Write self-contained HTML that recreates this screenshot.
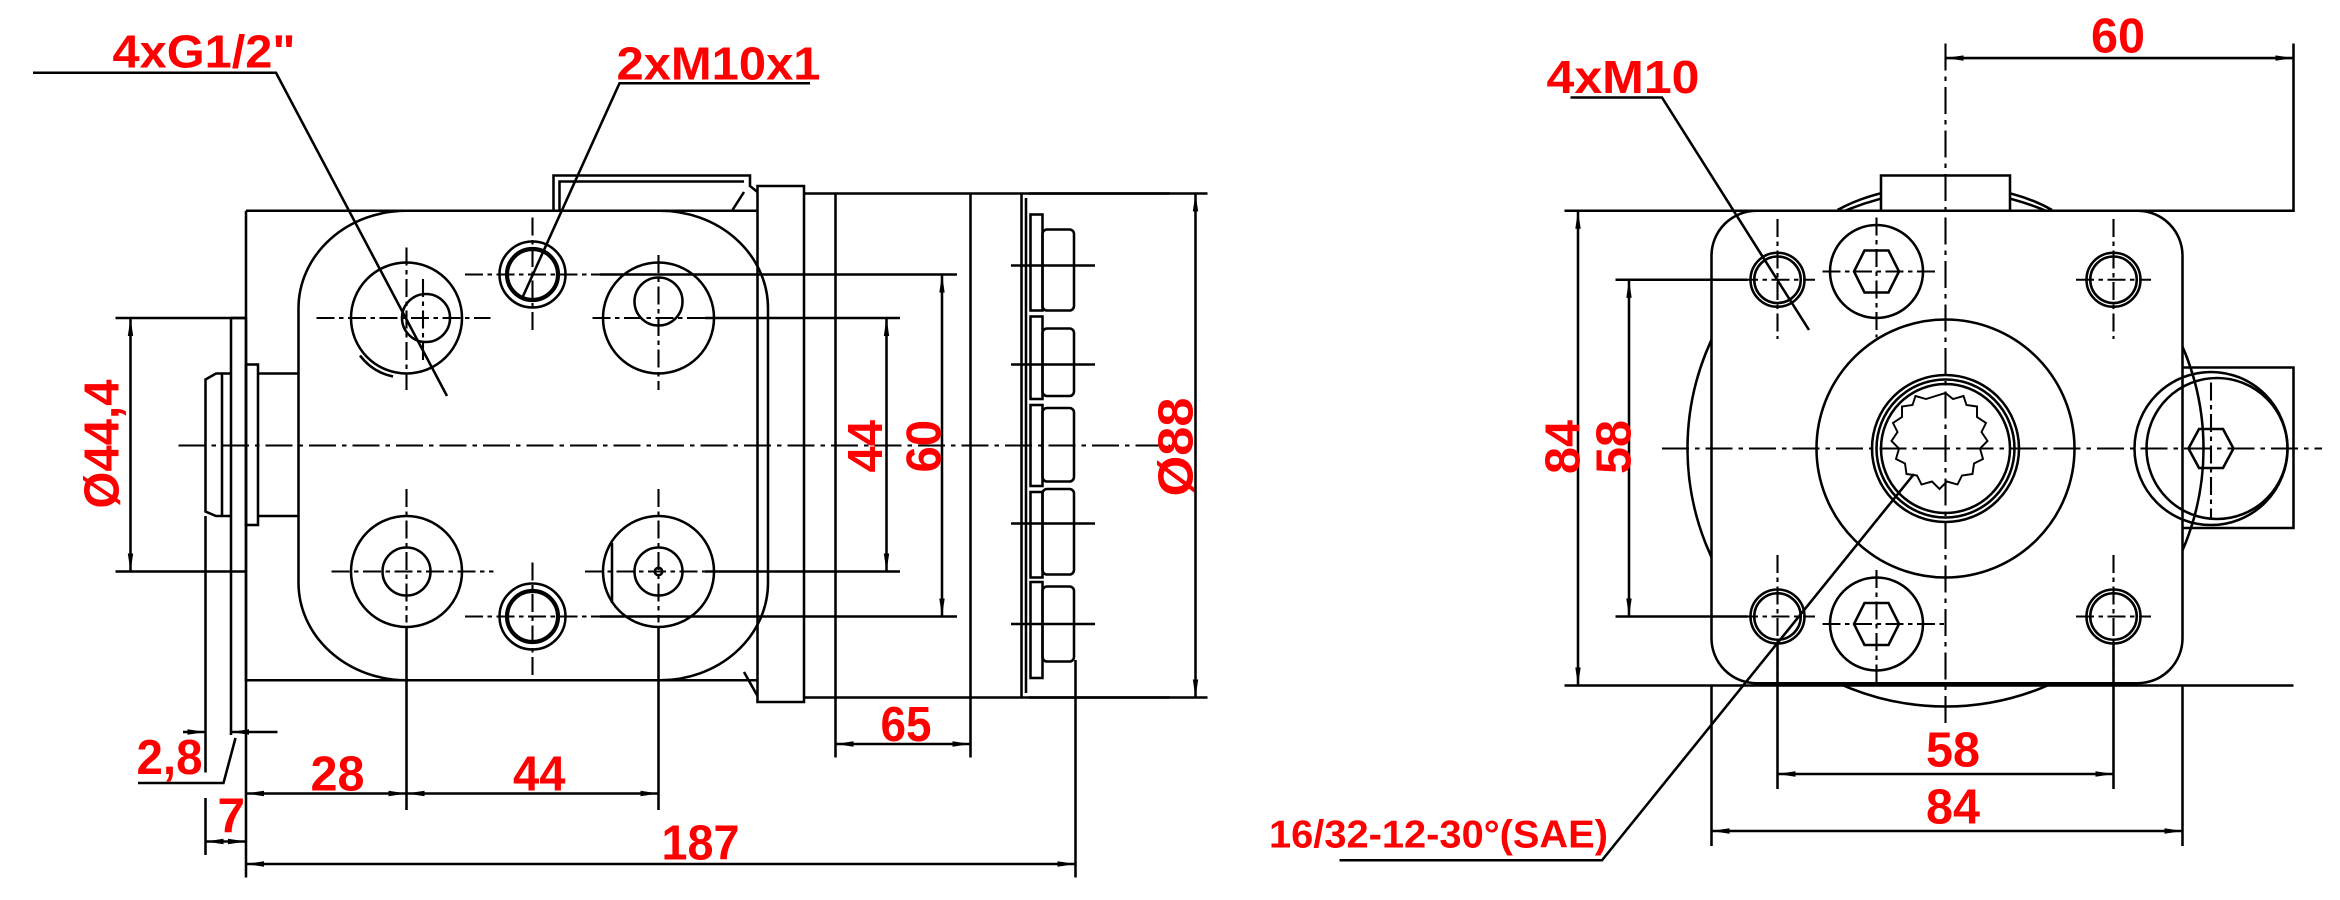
<!DOCTYPE html>
<html><head><meta charset="utf-8"><style>
html,body{margin:0;padding:0;background:#fff;}
svg{display:block;}
text{font-family:"Liberation Sans",sans-serif;font-weight:bold;fill:#ff0000;}
</style></head><body>
<svg width="2340" height="900" viewBox="0 0 1560 600" xmlns="http://www.w3.org/2000/svg">
<defs>
<marker id="a" viewBox="0 0 12 6" refX="12" refY="3" markerWidth="12" markerHeight="6" markerUnits="userSpaceOnUse" orient="auto-start-reverse"><path d="M0,1.2 L12,3 L0,4.8 Z" fill="#000"/></marker>
</defs>
<rect width="1560" height="600" fill="#fff"/>
<g fill="none" stroke="#000" stroke-width="1.7">
<!-- LEFT VIEW -->
<path d="M164,140.5 H505 M164,140.5 V453.5 H505"/>
<path d="M369,140.5 V117 H500 V124 L505,128 M373,140 V121 H496"/>
<path d="M496,128 L488,140.5 M496,448 L505,464"/>
<rect x="199" y="140.5" width="313" height="313" rx="72" ry="65"/>
<path d="M505,124 H536 V468 H505 Z"/>
<path d="M536,129 H780 M536,465 H780"/>
<line x1="557" y1="129" x2="557" y2="465"/>
<line x1="647" y1="129" x2="647" y2="465"/>
<line x1="681" y1="129" x2="681" y2="465"/>
<path d="M684,132 V462"/>
<g>
<rect x="687" y="143" width="8" height="64"/><rect x="695" y="153" width="21" height="54" rx="3"/>
<rect x="687" y="211" width="8" height="55"/><rect x="695" y="219" width="21" height="45" rx="3"/>
<rect x="687" y="270" width="8" height="54"/><rect x="695" y="272" width="21" height="49" rx="3"/>
<rect x="687" y="328" width="8" height="57"/><rect x="695" y="326" width="21" height="57" rx="3"/>
<rect x="687" y="388" width="8" height="64"/><rect x="695" y="391" width="21" height="50" rx="3"/>
<path d="M674,177 H730 M674,243 H730 M674,349 H730 M674,416 H730"/>
</g>
<path d="M154,212 V490 M164,212 V453"/>
<path d="M154,212 H164"/>
<rect x="164" y="243" width="8" height="107"/>
<path d="M172,249 H199 M172,344 H199"/>
<path d="M154,249 H144 L137,253 V341 L144,344 H154"/>
<path d="M148,249 V344"/>
<g>
<circle cx="271" cy="212" r="37"/><path d="M240,237 A37,37 0 0 0 262,251" /><circle cx="284" cy="212" r="16"/>
<circle cx="439" cy="212" r="37"/><circle cx="439" cy="201" r="16"/>
<circle cx="271" cy="381" r="37"/><circle cx="271" cy="381" r="16"/>
<circle cx="439" cy="381" r="37"/><circle cx="439" cy="381" r="16"/><circle cx="439" cy="381" r="2.5"/>
<path d="M408,362 V402"/>
<circle cx="355" cy="183" r="22"/><circle cx="355" cy="183" r="17" stroke-width="2.8"/>
<circle cx="355" cy="411" r="22"/><circle cx="355" cy="411" r="17" stroke-width="2.8"/>
</g>
<g stroke-dasharray="12 3 3 3" stroke-width="1.4">
<path d="M211,212 H327 M271,165 V260 M282,186 V240"/>
<path d="M395,212 H485 M439,170 V260"/>
<path d="M221,381 H329 M271,326 V415"/>
<path d="M390,381 H478 M439,326 V415"/>
<path d="M310,183 H400 M355,145 V220"/>
<path d="M310,411 H400 M355,375 V450"/>
<path d="M119,297 H780" stroke-dasharray="18 4 3 4"/>
</g>
<path d="M400,183 H638 M400,411 H638 M470,212 H600 M470,381 H600"/>
<path d="M77,212 H164 M77,381 H164"/>
<path d="M686,129 H805 M686,465 H805"/>
<line x1="591" y1="212" x2="591" y2="381" marker-start="url(#a)" marker-end="url(#a)"/>
<line x1="628" y1="183" x2="628" y2="411" marker-start="url(#a)" marker-end="url(#a)"/>
<line x1="797" y1="129" x2="797" y2="465" marker-start="url(#a)" marker-end="url(#a)"/>
<line x1="87" y1="212" x2="87" y2="381" marker-start="url(#a)" marker-end="url(#a)"/>
<path d="M271,418 V540 M439,418 V540 M164,453 V585 M137,344 V515 M717,440 V585 M557,465 V505 M647,465 V505 M137,532 V570"/>
<line x1="164" y1="529" x2="271" y2="529" marker-start="url(#a)" marker-end="url(#a)"/>
<line x1="271" y1="529" x2="439" y2="529" marker-start="url(#a)" marker-end="url(#a)"/>
<line x1="164" y1="576" x2="717" y2="576" marker-start="url(#a)" marker-end="url(#a)"/>
<line x1="557" y1="496" x2="647" y2="496" marker-start="url(#a)" marker-end="url(#a)"/>
<line x1="137" y1="561" x2="164" y2="561" marker-start="url(#a)" marker-end="url(#a)"/>
<line x1="122" y1="488" x2="137" y2="488" marker-end="url(#a)"/>
<line x1="185" y1="488" x2="154" y2="488" marker-end="url(#a)"/>
<path d="M92,522 H149 L157,492"/>
<path d="M22,48.5 H184 L298,264"/>
<path d="M540,55.5 H413 L348,199"/>

<!-- RIGHT VIEW -->
<circle cx="1297" cy="299" r="172"/>
<path d="M1225,140 Q1254,124 1297,124 Q1340,124 1368,140" />
<rect x="1141" y="140.5" width="314" height="315" rx="30" fill="#fff"/>
<path d="M1254,140.5 V117 H1340 V140.5" fill="#fff"/>
<path d="M1455,245 H1529 V352 H1455"/>
<circle cx="1474" cy="299" r="51"/><circle cx="1478" cy="299" r="47"/>
<polygon points="1459,299 1466,286 1482,286 1489,299 1482,312 1466,312"/>
<circle cx="1297" cy="299" r="86"/>
<circle cx="1297" cy="299" r="49"/><circle cx="1297" cy="299" r="46"/><circle cx="1297" cy="299" r="43"/>
<path d="M1297,262 l5,4 l7,-2 l2,6 l7,1 l0,7 l6,4 l-3,6 l4,6 l-5,5 l2,7 l-6,3 l-1,7 l-7,1 l-3,6 l-7,-2 l-5,5 l-5,-5 l-7,2 l-3,-6 l-7,-1 l-1,-7 l-6,-3 l2,-7 l-5,-5 l4,-6 l-3,-6 l6,-4 l0,-7 l7,-1 l2,-6 l7,2 z" stroke-width="1.3"/>
<g>
<circle cx="1185" cy="186.5" r="18"/><circle cx="1185" cy="186.5" r="15.5"/>
<circle cx="1409" cy="186.5" r="18"/><circle cx="1409" cy="186.5" r="15.5"/>
<circle cx="1185" cy="411" r="18"/><circle cx="1185" cy="411" r="15.5"/>
<circle cx="1409" cy="411" r="18"/><circle cx="1409" cy="411" r="15.5"/>
<circle cx="1251" cy="181" r="31"/>
<polygon points="1236,181 1243,167 1259,167 1266,181 1259,195 1243,195"/>
<circle cx="1251" cy="416" r="31"/>
<polygon points="1236,416 1243,402 1259,402 1266,416 1259,430 1243,430"/>
</g>
<g stroke-dasharray="12 3 3 3" stroke-width="1.4">
<path d="M1160,186.5 H1210 M1185,146 V226 M1384,186.5 H1434 M1409,146 V226"/>
<path d="M1160,411 H1210 M1185,370 V450 M1384,411 H1434 M1409,370 V450"/>
<path d="M1215,181 H1290 M1251,145 V225 M1215,416 H1297 M1251,380 V455"/>
<path d="M1474,255 V345"/>
<path d="M1108,299 H1548 M1297,29 V484" stroke-dasharray="18 4 3 4"/>
</g>
<path d="M1043,140.5 H1529 V29 M1043,457 H1529 M1077,186.5 H1165 M1077,411 H1165"/>
<path d="M1185,430 V526 M1409,430 V526 M1141,457 V564 M1455,457 V564"/>
<line x1="1052" y1="140.5" x2="1052" y2="457" marker-start="url(#a)" marker-end="url(#a)"/>
<line x1="1086" y1="186.5" x2="1086" y2="411" marker-start="url(#a)" marker-end="url(#a)"/>
<line x1="1185" y1="516" x2="1409" y2="516" marker-start="url(#a)" marker-end="url(#a)"/>
<line x1="1141" y1="554" x2="1455" y2="554" marker-start="url(#a)" marker-end="url(#a)"/>
<line x1="1297" y1="38.7" x2="1529" y2="38.7" marker-start="url(#a)" marker-end="url(#a)"/>
<path d="M1047,65 H1108 L1206,220"/>
<path d="M893,573.5 H1068 L1276,316"/>
</g>
<!-- TEXT -->
<g font-size="33">
<text x="75" y="45" font-size="31" textLength="122" lengthAdjust="spacingAndGlyphs">4xG1/2"</text>
<text x="411" y="53" font-size="31" textLength="136" lengthAdjust="spacingAndGlyphs">2xM10x1</text>
<text x="207" y="527" textLength="36" lengthAdjust="spacingAndGlyphs">28</text>
<text x="342" y="527" textLength="35" lengthAdjust="spacingAndGlyphs">44</text>
<text x="441" y="573" textLength="52" lengthAdjust="spacingAndGlyphs">187</text>
<text x="587" y="494" textLength="34" lengthAdjust="spacingAndGlyphs">65</text>
<text x="91" y="516" textLength="44" lengthAdjust="spacingAndGlyphs">2,8</text>
<text x="145" y="555">7</text>
<text transform="translate(588,315) rotate(-90)" textLength="35" lengthAdjust="spacingAndGlyphs">44</text>
<text transform="translate(627,315) rotate(-90)" textLength="35" lengthAdjust="spacingAndGlyphs">60</text>
<text transform="translate(79,339) rotate(-90)" textLength="86" lengthAdjust="spacingAndGlyphs">Ø44,4</text>
<text transform="translate(795,331) rotate(-90)" textLength="66" lengthAdjust="spacingAndGlyphs">Ø88</text>
<text x="1031" y="62" font-size="31" textLength="102" lengthAdjust="spacingAndGlyphs">4xM10</text>
<text x="1394" y="35" textLength="36" lengthAdjust="spacingAndGlyphs">60</text>
<text x="1284" y="511" textLength="36" lengthAdjust="spacingAndGlyphs">58</text>
<text x="1284" y="549" textLength="36" lengthAdjust="spacingAndGlyphs">84</text>
<text transform="translate(1053,316) rotate(-90)" textLength="36" lengthAdjust="spacingAndGlyphs">84</text>
<text transform="translate(1087,316) rotate(-90)" textLength="36" lengthAdjust="spacingAndGlyphs">58</text>
<text x="846" y="565" font-size="26" textLength="226" lengthAdjust="spacingAndGlyphs">16/32-12-30°(SAE)</text>
</g>
</svg>
</body></html>
